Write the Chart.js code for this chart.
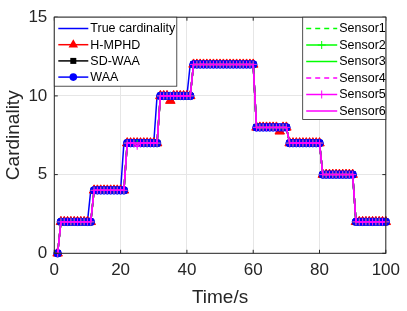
<!DOCTYPE html>
<html>
<head>
<meta charset="utf-8">
<script src="https://cdn.jsdelivr.net/npm/chart.js@4.4.0/dist/chart.umd.min.js"></script>
<style>
  html, body { margin: 0; padding: 0; background: #fff; }
</style>
</head>
<body>
<canvas id="chart" width="407" height="311"></canvas>
<script>
// Time steps (s)
const time = [
  1, 2, 3, 4, 5, 6, 7, 8, 9, 10,
  11, 12, 13, 14, 15, 16, 17, 18, 19, 20,
  21, 22, 23, 24, 25, 26, 27, 28, 29, 30,
  31, 32, 33, 34, 35, 36, 37, 38, 39, 40,
  41, 42, 43, 44, 45, 46, 47, 48, 49, 50,
  51, 52, 53, 54, 55, 56, 57, 58, 59, 60,
  61, 62, 63, 64, 65, 66, 67, 68, 69, 70,
  71, 72, 73, 74, 75, 76, 77, 78, 79, 80,
  81, 82, 83, 84, 85, 86, 87, 88, 89, 90,
  91, 92, 93, 94, 95, 96, 97, 98, 99, 100
];

const trueCardinality = [
  2, 2, 2, 2, 2, 2, 2, 2, 2, 2,
  4, 4, 4, 4, 4, 4, 4, 4, 4, 4,
  7, 7, 7, 7, 7, 7, 7, 7, 7, 7,
  10, 10, 10, 10, 10, 10, 10, 10, 10, 10,
  12, 12, 12, 12, 12, 12, 12, 12, 12, 12,
  12, 12, 12, 12, 12, 12, 12, 12, 12, 12,
  8, 8, 8, 8, 8, 8, 8, 8, 8, 8,
  7, 7, 7, 7, 7, 7, 7, 7, 7, 7,
  5, 5, 5, 5, 5, 5, 5, 5, 5, 5,
  2, 2, 2, 2, 2, 2, 2, 2, 2, 2
];

const hmphd = [
  0, 2, 2, 2, 2, 2, 2, 2, 2, 2,
  2, 4, 4, 4, 4, 4, 4, 4, 4, 4,
  4, 7, 7, 7, 7, 7, 7, 7, 7, 7,
  7, 10, 10, 10, 9.7, 10, 10, 10, 10, 10,
  10, 12, 12, 12, 12, 12, 12, 12, 12, 12,
  12, 12, 12, 12, 12, 12, 12, 12, 12, 12,
  8, 8, 8, 8, 8, 8, 8, 7.75, 8, 8,
  7, 7, 7, 7, 7, 7, 7, 7, 7, 7,
  5, 5, 5, 5, 5, 5, 5, 5, 5, 5,
  2, 2, 2, 2, 2, 2, 2, 2, 2, 2
];

const sdwaa = [
  0, 2, 2, 2, 2, 2, 2, 2, 2, 2,
  2, 4, 4, 4, 4, 4, 4, 4, 4, 4,
  4, 7, 7, 7, 7, 7, 7, 7, 7, 7,
  7, 10, 10, 10, 10, 10, 10, 10, 10, 10,
  10, 12, 12, 12, 12, 12, 12, 12, 12, 12,
  12, 12, 12, 12, 12, 12, 12, 12, 12, 12,
  8, 8, 8, 8, 8, 8, 8, 8, 8, 8,
  7, 7, 7, 7, 7, 7, 7, 7, 7, 7,
  5, 5, 5, 5, 5, 5, 5, 5, 5, 5,
  2, 2, 2, 2, 2, 2, 2, 2, 2, 2
];

const waa = [
  0, 2, 2, 2, 2, 2, 2, 2, 2, 2,
  2, 4, 4, 4, 4, 4, 4, 4, 4, 4,
  4, 7, 7, 7, 7, 7, 7, 7, 7, 7,
  7, 10, 10, 10, 10, 10, 10, 10, 10, 10,
  10, 12, 12, 12, 12, 12, 12, 12, 12, 12,
  12, 12, 12, 12, 12, 12, 12, 12, 12, 12,
  8, 8, 8, 8, 8, 8, 8, 8, 8, 8,
  7, 7, 7, 7, 7, 7, 7, 7, 7, 7,
  5, 5, 5, 5, 5, 5, 5, 5, 5, 5,
  2, 2, 2, 2, 2, 2, 2, 2, 2, 2
];

const sensor1 = [
  0, 2, 2, 2, 2, 2, 2, 2, 2, 2,
  2, 4, 4, 4, 4, 4, 4, 4, 4, 4,
  4, 7, 7, 7, 7, 7, 7, 7, 7, 7,
  7, 10, 10, 10, 10, 10, 10, 10, 10, 10,
  10, 12, 12, 12, 12, 12, 12, 12, 12, 12,
  12, 12, 12, 12, 12, 12, 12, 12, 12, 12,
  8, 8, 8, 8, 8, 8, 8, 8, 8, 8,
  7, 7, 7, 7, 7, 7, 7, 7, 7, 7,
  5, 5, 5, 5, 5, 5, 5, 5, 5, 5,
  2, 2, 2, 2, 2, 2, 2, 2, 2, 2
];

const sensor2 = [
  0, 2, 2, 2, 2, 2, 2, 2, 2, 2,
  2, 4, 4, 4, 4, 4, 4, 4, 4, 4,
  4, 7, 7, 7, 7, 7, 7, 7, 7, 7,
  7, 10, 10, 10, 10, 10, 10, 10, 10, 10,
  10, 12, 12, 12, 12, 12, 12, 12, 12, 12,
  12, 12, 12, 12, 12, 12, 12, 12, 12, 12,
  8, 8, 8, 8, 8, 8, 8, 8, 8, 8,
  7, 7, 7, 7, 7, 7, 7, 7, 7, 7,
  5, 5, 5, 5, 5, 5, 5, 5, 5, 5,
  2, 2, 2, 2, 2, 2, 2, 2, 2, 2
];

const sensor3 = [
  0, 2, 2, 2, 2, 2, 2, 2, 2, 2,
  2, 4, 4, 4, 4, 4, 4, 4, 4, 4,
  4, 7, 7, 7, 7, 7, 7, 7, 7, 7,
  7, 10, 10, 10, 10, 10, 10, 10, 10, 10,
  10, 12, 12, 12, 12, 12, 12, 12, 12, 12,
  12, 12, 12, 12, 12, 12, 12, 12, 12, 12,
  8, 8, 8, 8, 8, 8, 8, 8, 8, 8,
  7, 7, 7, 7, 7, 7, 7, 7, 7, 7,
  5, 5, 5, 5, 5, 5, 5, 5, 5, 5,
  2, 2, 2, 2, 2, 2, 2, 2, 2, 2
];

const sensor4 = [
  0, 2, 2, 2, 2, 2, 2, 2, 2, 2,
  2, 4, 4, 4, 4, 4, 4, 4, 4, 4,
  4, 7, 7, 7, 7, 7, 7, 7, 7, 7,
  7, 10, 10, 10, 10, 10, 10, 10, 10, 10,
  10, 12, 12, 12, 12, 12, 12, 12, 12, 12,
  12, 12, 12, 12, 12, 12, 12, 12, 12, 12,
  8, 8, 8, 8, 8, 8, 8, 8, 8, 8,
  7, 7, 7, 7, 7, 7, 7, 7, 7, 7,
  5, 5, 5, 5, 5, 5, 5, 5, 5, 5,
  2, 2, 2, 2, 2, 2, 2, 2, 2, 2
];

const sensor5 = [
  0, 2, 2, 2, 2, 2, 2, 2, 2, 2,
  2, 4, 4, 4, 4, 4, 4, 4, 4, 4,
  4, 7, 7, 7, 6.8, 7, 7, 7, 7, 7,
  7, 10, 10, 10, 10, 10, 10, 10, 10, 10,
  10, 12, 12, 12, 12, 12, 12, 12, 12, 12,
  12, 12, 12, 12, 12, 12, 12, 12, 12, 12,
  8, 8, 8, 8, 8, 8, 8, 8, 8, 8,
  7, 7, 7, 7, 7, 7, 7, 7, 7, 7,
  5, 5, 5, 5, 5, 5, 5, 5, 5, 5,
  2, 2, 2, 2, 2, 2, 2, 2, 2, 2
];

const sensor6 = [
  0, 2, 2, 2, 2, 2, 2, 2, 2, 2,
  2, 4, 4, 4, 4, 4, 4, 4, 4, 4,
  4, 7, 7, 7, 7, 7, 7, 7, 7, 7,
  7, 10, 10, 10, 10, 10, 10, 10, 10, 10,
  10, 12, 12, 12, 12, 12, 12, 12, 12, 12,
  12, 12, 12, 12, 12, 12, 12, 12, 12, 12,
  8, 8, 8, 8, 8, 8, 8, 8, 8, 8,
  7, 7, 7, 7, 7, 7, 7, 7, 7, 7,
  5, 5, 5, 5, 5, 5, 5, 5, 5, 5,
  2, 2, 2, 2, 2, 2, 2, 2, 2, 2
];

const xTicks = [0, 20, 40, 60, 80, 100];
const yTicks = [0, 5, 10, 15];

const seriesNames = ['True cardinality', 'H-MPHD', 'SD-WAA', 'WAA',
  'Sensor1', 'Sensor2', 'Sensor3', 'Sensor4', 'Sensor5', 'Sensor6'];
const seriesData = [trueCardinality, hmphd, sdwaa, waa,
  sensor1, sensor2, sensor3, sensor4, sensor5, sensor6];

// line / marker look of every series
const styles = [
  { color: '#0000ff', marker: false, r: 0, dash: [] },
  { color: '#ff0000', marker: 'triangle', r: 5.5, dash: [] },
  { color: '#000000', marker: 'rect', r: 4, dash: [] },
  { color: '#0000ff', marker: 'circle', r: 3.8, dash: [] },
  { color: '#00ff00', marker: false, r: 0, dash: [5, 4] },
  { color: '#00ff00', marker: 'cross', r: 3.5, dash: [] },
  { color: '#00ff00', marker: false, r: 0, dash: [] },
  { color: '#ff00ff', marker: false, r: 0, dash: [5, 4] },
  { color: '#ff00ff', marker: 'cross', r: 3.5, dash: [] },
  { color: '#ff00ff', marker: false, r: 0, dash: [] }
];

const FONT = '"Liberation Sans", Arial, Helvetica, sans-serif';
const AXIS_COLOR = '#262626';

const datasets = seriesNames.map((name, i) => ({
  label: name,
  data: seriesData[i],
  borderColor: styles[i].color,
  backgroundColor: styles[i].color,
  borderWidth: 1.5,
  borderDash: styles[i].dash,
  pointStyle: styles[i].marker || 'circle',
  pointRadius: styles[i].marker ? styles[i].r : 0,
  pointBackgroundColor: styles[i].color,
  pointBorderColor: styles[i].color,
  pointBorderWidth: 1,
  tension: 0,
  fill: false,
  clip: false,
  order: seriesNames.length - i
}));

// draw marker for the legend samples
function drawMarker(ctx, type, x, y, r, color) {
  ctx.save();
  ctx.setLineDash([]);
  ctx.fillStyle = color;
  ctx.strokeStyle = color;
  ctx.lineWidth = 1;
  ctx.beginPath();
  if (type === 'triangle') {
    ctx.moveTo(x, y - r);
    ctx.lineTo(x + 0.866 * r, y + 0.5 * r);
    ctx.lineTo(x - 0.866 * r, y + 0.5 * r);
    ctx.closePath();
    ctx.fill();
  } else if (type === 'rect') {
    const h = r * 0.75;
    ctx.rect(x - h, y - h, 2 * h, 2 * h);
    ctx.fill();
  } else if (type === 'circle') {
    ctx.arc(x, y, r, 0, Math.PI * 2);
    ctx.fill();
  } else if (type === 'cross') {
    ctx.moveTo(x - r, y); ctx.lineTo(x + r, y);
    ctx.moveTo(x, y - r); ctx.lineTo(x, y + r);
    ctx.stroke();
  }
  ctx.restore();
}

function drawLegend(ctx, box, entries) {
  ctx.save();
  ctx.fillStyle = '#ffffff';
  ctx.fillRect(box.x, box.y, box.w, box.h);
  ctx.strokeStyle = AXIS_COLOR;
  ctx.lineWidth = 0.8;
  ctx.strokeRect(box.x, box.y, box.w, box.h);
  ctx.font = '12.5px ' + FONT;
  ctx.textBaseline = 'middle';
  ctx.textAlign = 'left';
  entries.forEach((idx, k) => {
    const st = styles[idx];
    const y = box.y + box.first + k * box.step;
    const x0 = box.x + box.lineStart;
    const x1 = x0 + box.lineLen;
    ctx.strokeStyle = st.color;
    ctx.lineWidth = 1.5;
    ctx.setLineDash(st.dash);
    ctx.beginPath();
    ctx.moveTo(x0, y);
    ctx.lineTo(x1, y);
    ctx.stroke();
    ctx.setLineDash([]);
    if (st.marker) {
      drawMarker(ctx, st.marker, (x0 + x1) / 2, y, st.marker === 'cross' ? 4 : st.r, st.color);
    }
    ctx.fillStyle = '#000000';
    ctx.fillText(seriesNames[idx], x1 + 2, y + 0.5);
  });
  ctx.restore();
}

const matlabBox = {
  id: 'matlabBox',
  afterDraw(chart) {
    const { ctx, chartArea: a, scales } = chart;
    ctx.save();
    ctx.strokeStyle = AXIS_COLOR;
    ctx.lineWidth = 1;
    ctx.strokeRect(a.left, a.top, a.right - a.left, a.bottom - a.top);
    ctx.beginPath();
    xTicks.forEach(v => {
      const px = scales.x.getPixelForValue(v);
      ctx.moveTo(px, a.bottom); ctx.lineTo(px, a.bottom - 3.5);
      ctx.moveTo(px, a.top); ctx.lineTo(px, a.top + 3.5);
    });
    yTicks.forEach(v => {
      const py = scales.y.getPixelForValue(v);
      ctx.moveTo(a.left, py); ctx.lineTo(a.left + 3.5, py);
      ctx.moveTo(a.right, py); ctx.lineTo(a.right - 3.5, py);
    });
    ctx.stroke();
    ctx.restore();

    drawLegend(ctx, { x: a.left, y: a.top, w: 122.5, h: 69, first: 11.3, step: 16.2, lineStart: 4, lineLen: 30 }, [0, 1, 2, 3]);
    drawLegend(ctx, { x: 302.7, y: a.top, w: a.right - 302.7, h: 102.3, first: 11.3, step: 16.5, lineStart: 3.5, lineLen: 31 }, [4, 5, 6, 7, 8, 9]);
  }
};

new Chart(document.getElementById('chart'), {
  type: 'line',
  data: { labels: time, datasets: datasets },
  plugins: [matlabBox],
  options: {
    responsive: false,
    animation: false,
    events: [],
    layout: { padding: { left: 0, right: 19.3, top: 9.4, bottom: 0 } },
    plugins: { legend: { display: false }, tooltip: { enabled: false } },
    scales: {
      x: {
        type: 'linear',
        min: 0,
        max: 100,
        afterFit(scale) { scale.height = 57.7; },
        afterBuildTicks(scale) { scale.ticks = xTicks.map(v => ({ value: v })); },
        grid: { color: '#e6e6e6', lineWidth: 1, drawTicks: false },
        border: { display: false },
        ticks: { color: AXIS_COLOR, font: { family: FONT, size: 17 }, padding: 7, maxRotation: 0 },
        title: { display: true, text: 'Time/s', color: AXIS_COLOR, font: { family: FONT, size: 19 }, padding: { top: 0, bottom: 2 } }
      },
      y: {
        type: 'linear',
        min: 0,
        max: 15,
        afterFit(scale) { scale.width = 54.3; },
        afterBuildTicks(scale) { scale.ticks = yTicks.map(v => ({ value: v })); },
        grid: { color: '#e6e6e6', lineWidth: 1, drawTicks: false },
        border: { display: false },
        ticks: { color: AXIS_COLOR, font: { family: FONT, size: 17 }, padding: 7 },
        title: { display: true, text: 'Cardinality', color: AXIS_COLOR, font: { family: FONT, size: 19 }, padding: { top: 2, bottom: 0 } }
      }
    }
  }
});
</script>
</body>
</html>
